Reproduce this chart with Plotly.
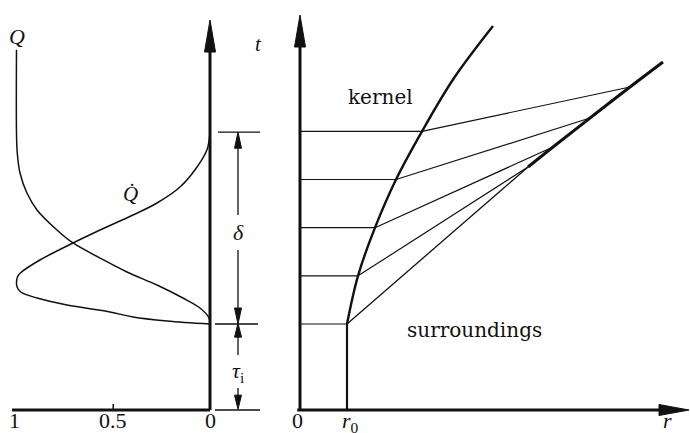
import plotly.graph_objects as go

# ---------------------------------------------------------------
# Shared time axis t (ignition delay tau_i, then combustion over delta)
# ---------------------------------------------------------------
t_ign = 1.0          # end of ignition delay tau_i
t_end = 3.23         # end of combustion (t_ign + delta)

# Left panel: burned fraction Q(t) and burning rate Q-dot(t)  (both normalised to 1)
t_Q = [1.00, 1.07, 1.186, 1.302, 1.453, 1.605, 1.767, 1.942, 2.093, 2.326, 2.523, 2.756, 2.988, 3.22, 4.19]
Q = [0.0, 0.005, 0.052, 0.140, 0.274, 0.429, 0.568, 0.708, 0.791, 0.894, 0.946, 0.982, 0.996, 1.0, 1.0]

t_Qdot = [1.00, 1.035, 1.081, 1.14, 1.221, 1.302, 1.372, 1.43, 1.488, 1.547, 1.593, 1.744, 1.942, 2.093,
          2.267, 2.407, 2.593, 2.826, 3.023, 3.22]
Qdot = [0.0, 0.222, 0.398, 0.517, 0.739, 0.894, 0.978, 0.997, 1.0, 0.995, 0.980, 0.879, 0.708, 0.568,
        0.398, 0.274, 0.155, 0.067, 0.016, 0.0]

Q_ticks = [1, 0.5, 0]
Q_ticktext = ["1", "0.5", "0"]

# Right panel: kernel growth r(t) and the surroundings front
r0 = 1.0
t_stage = [1.0, 1.56, 2.12, 2.68, 3.24]
r_stage = [1.0, 1.234, 1.596, 2.043, 2.596]
t_kernel = [1.0, 1.56, 2.12, 2.68, 3.24, 3.86, 4.465]
r_kernel = [1.0, 1.234, 1.596, 2.043, 2.596, 3.277, 4.106]
t_front = [1.0, 2.826, 3.058, 3.395, 3.756, 4.047]
r_front = [1.0, 4.851, 5.383, 6.17, 7.021, 7.723]

r_ticks = [0, r0]
r_ticktext = ["0", "<i>r</i><sub>0</sub>"]

# ---------------------------------------------------------------
# Axis scales (pixels per data unit) and ranges
# ---------------------------------------------------------------
W, H = 690, 433
PX_T = 86.0                 # pixels per unit of t
PX_Q = 193.5                # pixels per unit of Q
PX_R = 47.0                 # pixels per unit of r
T0_PX = 410.0               # pixel row of t = 0
Q0_PX = 210.0               # pixel column of Q = 0
R0_PX = 300.0               # pixel column of r = 0

y_range = [-(H - T0_PX) / PX_T, T0_PX / PX_T]
q_range = [Q0_PX / PX_Q, -(W - Q0_PX) / PX_Q]      # reversed: Q grows to the left
r_range = [-R0_PX / PX_R, (W - R0_PX) / PX_R]

t_top_left = (T0_PX - 20) / PX_T
t_top_right = (T0_PX - 15) / PX_T
r_tip = (W - 1 - R0_PX) / PX_R

INK = "#111111"
SERIF = "Liberation Serif"
WORD = "DejaVu Serif"

fig = go.Figure()


def line(x, y, axis, width, shape="linear"):
    fig.add_trace(go.Scatter(
        x=x, y=y, xaxis=axis, yaxis="y", mode="lines",
        line=dict(color=INK, width=width, shape=shape, smoothing=1.0),
        hoverinfo="skip", showlegend=False))


def head(x_tip, y_tip, direction, axis, length, half, px_x):
    """Filled arrowhead; length/half-width given in pixels."""
    if direction in ("up", "down"):
        s = 1 if direction == "up" else -1
        base = y_tip - s * length / PX_T
        hw = half / px_x
        xs = [x_tip - hw, x_tip, x_tip + hw, x_tip - hw]
        ys = [base, y_tip, base, base]
    else:
        base = x_tip - length / px_x
        hw = half / PX_T
        xs = [base, x_tip, base, base]
        ys = [y_tip - hw, y_tip, y_tip + hw, y_tip - hw]
    fig.add_trace(go.Scatter(
        x=xs, y=ys, xaxis=axis, yaxis="y", mode="lines", fill="toself",
        fillcolor=INK, line=dict(color=INK, width=1),
        hoverinfo="skip", showlegend=False))


def px_q(dx):
    return -dx / PX_Q


# ---------------- Left panel ----------------
# Q axis (horizontal) and t axis (vertical)
line([1.023, 0], [0, 0], "x", 3)
line([0.5, 0.5], [0, 6 / PX_T], "x", 1.5)
line([0, 0], [0, t_top_left - 0.2], "x", 3)
head(0, t_top_left, "up", "x", 32, 5.5, PX_Q)

# curves
line(Q, t_Q, "x", 1.5, "spline")
line(Qdot, t_Qdot, "x", 1.5, "spline")

# dimension marks for tau_i and delta
dim_x = px_q(28)
for tt, a, b in [(0, 5, 50), (t_ign, 5, 48), (t_end, 8, 50)]:
    line([px_q(a), px_q(b)], [tt, tt], "x", 1.3)
gap_delta = [(T0_PX - 215) / PX_T, (T0_PX - 250) / PX_T]
gap_tau = [(T0_PX - 355) / PX_T, (T0_PX - 388) / PX_T]
line([dim_x, dim_x], [gap_delta[0], t_end - 0.1], "x", 1.3)
head(dim_x, t_end, "up", "x", 16, 3.5, PX_Q)
line([dim_x, dim_x], [gap_delta[1], t_ign + 0.1], "x", 1.3)
head(dim_x, t_ign, "down", "x", 16, 3.5, PX_Q)
line([dim_x, dim_x], [gap_tau[0], t_ign - 0.1], "x", 1.3)
head(dim_x, t_ign + 0.01, "up", "x", 14, 3.5, PX_Q)
line([dim_x, dim_x], [gap_tau[1], 0.1], "x", 1.3)
head(dim_x, 0.01, "down", "x", 14, 3.5, PX_Q)

# ---------------- Right panel ----------------
line([-0.06, r_tip - 0.4], [0, 0], "x2", 3)
head(r_tip, 0, "right", "x2", 30, 5.5, PX_R)
line([0, 0], [0, t_top_right - 0.2], "x2", 3)
head(0, t_top_right, "up", "x2", 32, 5.5, PX_R)

# kernel boundary: r0 until ignition, then growing
line([r0, r0], [0, t_ign], "x2", 2.2)
line(r_kernel, t_kernel, "x2", 2.4, "spline")

# time levels inside the kernel
for ts, rs in zip(t_stage, r_stage):
    line([0, rs], [ts, ts], "x2", 1.2)

# rays from the kernel boundary to the outer front
line(r_front[:2], t_front[:2], "x2", 1.3)
for rs, ts, rf, tf in zip(r_stage[1:], t_stage[1:], r_front[1:], t_front[1:]):
    line([rs, rf], [ts, tf], "x2", 1.2)
line(r_front[1:], t_front[1:], "x2", 3, "spline")

# ---------------- Text ----------------
ann = []


def text(x, y, s, axis, size, family=SERIF, xanchor="center", yanchor="middle"):
    ann.append(dict(x=x, y=y, xref=axis, yref="y", text=s, showarrow=False,
                    font=dict(family=family, size=size, color=INK),
                    xanchor=xanchor, yanchor=yanchor))


label_row = (T0_PX - 406) / PX_T
for v, s in zip(Q_ticks, Q_ticktext):
    text(v + (0.01 if v == 1 else 0), label_row, s, "x", 22, yanchor="top")
for v, s in zip(r_ticks, r_ticktext):
    text(v + (-0.06 if v == 0 else 0.08), label_row, s, "x2", 22, yanchor="top")
text((r_tip - 0.45), label_row, "<i>r</i>", "x2", 22, yanchor="top")

text(1.0, (T0_PX - 36) / PX_T, "<i>Q</i>", "x", 22)
text(px_q(-80), (T0_PX - 194) / PX_T, "<i>Q\u0307</i>", "x", 21)
text(px_q(48), (T0_PX - 44) / PX_T, "<i>t</i>", "x", 21)
text(dim_x, (T0_PX - 232) / PX_T, "<i>\u03b4</i>", "x", 22)
text(dim_x, (T0_PX - 372) / PX_T, "<i>\u03c4</i><sub>i</sub>", "x", 22)

text((380 - R0_PX) / PX_R, (T0_PX - 97) / PX_T, "kernel", "x2", 20, WORD)
text((474 - R0_PX) / PX_R, (T0_PX - 330) / PX_T, "surroundings", "x2", 20, WORD)

axis_common = dict(visible=False, showgrid=False, zeroline=False, fixedrange=True)
fig.update_layout(
    width=W, height=H,
    margin=dict(l=0, r=0, t=0, b=0),
    paper_bgcolor="white", plot_bgcolor="white",
    showlegend=False,
    xaxis=dict(range=q_range, domain=[0, 1], **axis_common),
    xaxis2=dict(range=r_range, domain=[0, 1], overlaying="x", anchor="y", **axis_common),
    yaxis=dict(range=y_range, domain=[0, 1], **axis_common),
    annotations=ann,
)

fig.write_html("out.html")
